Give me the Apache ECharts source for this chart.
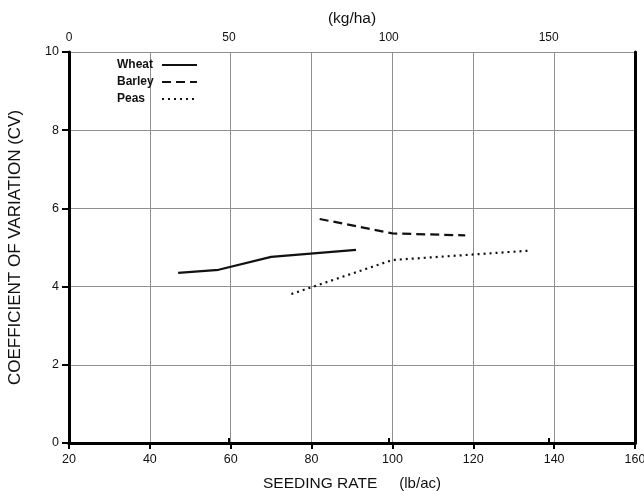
<!DOCTYPE html>
<html>
<head>
<meta charset="utf-8">
<script src="https://cdn.jsdelivr.net/npm/echarts@6/dist/echarts.min.js"></script>
<style>
html,body{margin:0;padding:0;background:#fff;}
#chart{width:644px;height:491px;}
</style>
</head>
<body>
<div id="chart"></div>
<script>
// Data (x in lb/ac, y = CV)
const wheatX = [47, 57, 70, 91];
const wheatY = [4.35, 4.43, 4.76, 4.94];
const barleyX = [82, 100, 118];
const barleyY = [5.73, 5.36, 5.31];
const peasX = [75, 100, 134];
const peasY = [3.81, 4.68, 4.92];

const seriesNames = ['Wheat', 'Barley', 'Peas'];
const bottomAxis = {min: 20, max: 160, interval: 20};
const topAxis = {min: 0, max: 177, interval: 50};
const leftAxis = {min: 0, max: 10, interval: 2};

const pairs = (xs, ys) => xs.map((x, i) => [x, ys[i]]);
const font = 'Liberation Sans, Arial, Helvetica, sans-serif';
const ink = '#111';

const chart = echarts.init(document.getElementById('chart'));
chart.setOption({
  backgroundColor: '#fff',
  animation: false,
  grid: {left: 69, right: 9, top: 52, bottom: 48, containLabel: false, outerBoundsMode: 'none'},
  legend: {
    orient: 'vertical',
    left: 112,
    top: 54,
    align: 'right',
    itemWidth: 35,
    itemHeight: 10,
    itemGap: 5,
    data: seriesNames,
    itemStyle: {opacity: 0},
    formatter: name => '{n|' + name + '}',
    textStyle: {rich: {n: {fontFamily: font, fontSize: 12, fontWeight: 'bold', color: ink, width: 40, align: 'left'}}}
  },
  xAxis: [
    {
      type: 'value', position: 'bottom',
      min: bottomAxis.min, max: bottomAxis.max, interval: bottomAxis.interval,
      name: '{a|SEEDING RATE}{b|(lb/ac)}',
      nameLocation: 'middle', nameGap: 33,
      nameTextStyle: {rich: {
        a: {fontFamily: font, fontSize: 15.5, color: ink},
        b: {fontFamily: font, fontSize: 15, color: ink, padding: [0, 0, 0, 22]}
      }},
      axisLine: {lineStyle: {color: '#000', width: 3}},
      axisTick: {length: 6, lineStyle: {color: '#000', width: 2}},
      axisLabel: {fontFamily: font, fontSize: 12.5, color: ink, margin: 10},
      splitLine: {show: true, lineStyle: {color: '#909090', width: 1}}
    },
    {
      type: 'value', position: 'top',
      min: topAxis.min, max: topAxis.max, interval: topAxis.interval,
      name: '(kg/ha)', nameLocation: 'middle', nameGap: 23,
      nameTextStyle: {fontFamily: font, fontSize: 15.5, color: ink},
      axisLine: {lineStyle: {color: '#000', width: 3}},
      axisTick: {length: 5, lineStyle: {color: '#000', width: 2}},
      axisLabel: {fontFamily: font, fontSize: 12, color: ink, margin: 8,
        showMaxLabel: false},
      splitLine: {show: false}
    }
  ],
  yAxis: [
    {
      type: 'value', position: 'left',
      min: leftAxis.min, max: leftAxis.max, interval: leftAxis.interval,
      name: 'COEFFICIENT OF VARIATION (CV)',
      nameLocation: 'middle', nameGap: 45,
      nameTextStyle: {fontFamily: font, fontSize: 17, color: ink},
      axisLine: {lineStyle: {color: '#000', width: 3}},
      axisTick: {length: 7, lineStyle: {color: '#000', width: 2}},
      axisLabel: {fontFamily: font, fontSize: 12.5, color: ink, margin: 10},
      splitLine: {show: true, lineStyle: {color: '#909090', width: 1}}
    },
    {
      type: 'value', position: 'right',
      min: leftAxis.min, max: leftAxis.max, interval: leftAxis.interval,
      axisLine: {show: true, lineStyle: {color: '#000', width: 3}},
      axisTick: {show: false}, axisLabel: {show: false}, splitLine: {show: false}
    }
  ],
  series: [
    {name: seriesNames[0], type: 'line', xAxisIndex: 0, yAxisIndex: 0,
     data: pairs(wheatX, wheatY), symbol: 'none', color: ink,
     lineStyle: {color: ink, width: 2.2, type: 'solid'}},
    {name: seriesNames[1], type: 'line', xAxisIndex: 0, yAxisIndex: 0,
     data: pairs(barleyX, barleyY), symbol: 'none', color: ink,
     lineStyle: {color: ink, width: 2.2, type: [9, 5]}},
    {name: seriesNames[2], type: 'line', xAxisIndex: 0, yAxisIndex: 0,
     data: pairs(peasX, peasY), symbol: 'none', color: ink,
     lineStyle: {color: ink, width: 2.2, type: [2, 4]}}
  ]
});
</script>
</body>
</html>
